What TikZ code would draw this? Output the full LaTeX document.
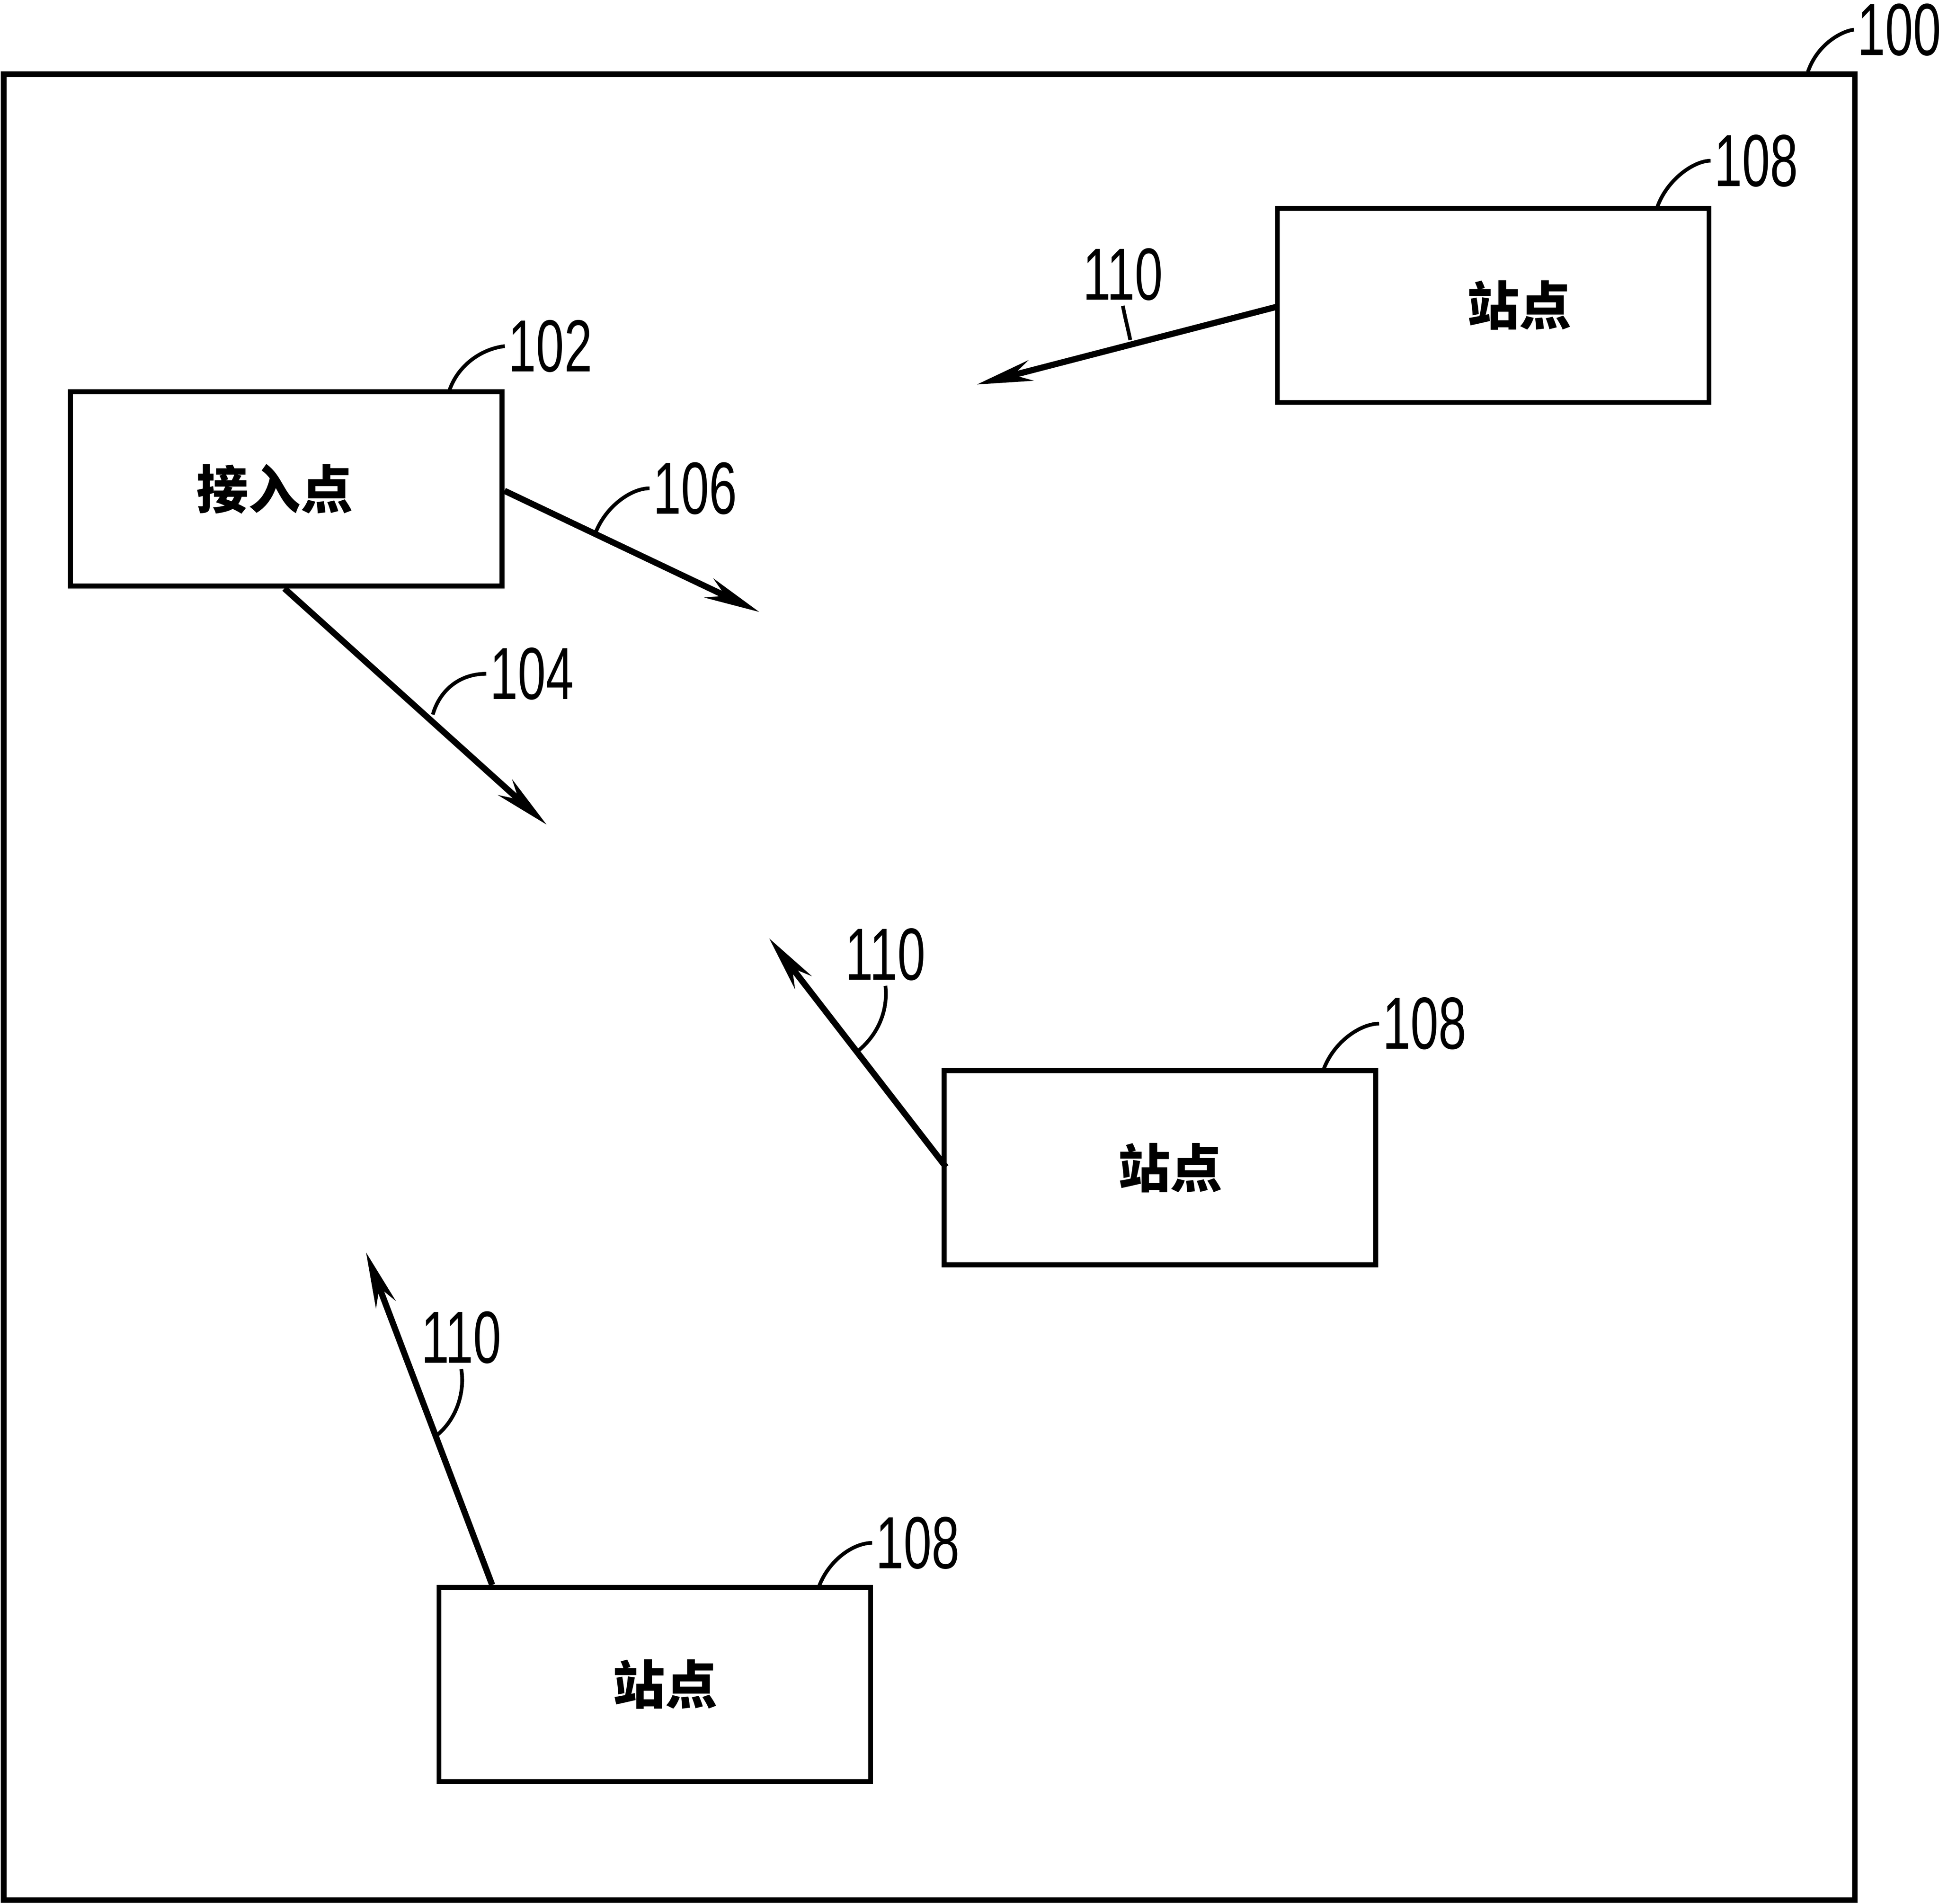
\documentclass[tikz,border=0pt]{standalone}
\usepackage{fontspec}
\setmainfont{Liberation Sans}
\newfontfamily\cjk{Noto Sans CJK SC}
\usetikzlibrary{arrows.meta}
\begin{document}
\begin{tikzpicture}[x=0.1mm,y=-0.1mm,
  box/.style={draw,line width=0.4mm,minimum width=34.9mm,minimum height=15.7mm,inner sep=0,font=\cjk\bfseries\fontsize{12}{12}\selectfont},
  sig/.style={line width=0.5mm,-{Stealth[length=4.5mm,width=1.7mm]}},
  lead/.style={line width=0.3mm},
  num/.style={font=\fontsize{17}{17}\selectfont,xscale=0.68,inner sep=1pt}]
\useasboundingbox (0,0) rectangle (1568,1540);
\draw[line width=0.45mm] (3,60) rectangle (1500,1537);
\node[num] (l100) at (1536,24) {100};
\draw[lead] (1462,58) .. controls (1470,35) and (1490,25) .. (l100.west);

\node[box] (ap) at (231.5,395.5) {\hspace*{-0.45em}接入点};
\node[num] (l102) at (445,280) {102};
\draw[lead] (363,317) .. controls (370,295) and (390,282) .. (l102.west);
\coordinate (e106) at (614,495);
\draw[sig] (ap.east |- 0,397) -- (e106);
\node[num] (l106) at (562,395) {106};
\draw[lead] (482,430) .. controls (490,410) and (510,395) .. (l106.west);
\coordinate (s104) at (230,476);
\coordinate (e104) at (442,667);
\draw[sig] (s104) -- (e104);
\node[num] (l104) at (430,545) {104};
\draw[lead] (350,578) .. controls (355,560) and (370,545) .. (l104.west);

\node[box] (s1) at (1207.5,247) {\hspace*{1em}站点};
\node[num] (l108a) at (1420,130) {108};
\draw[lead] (1340,168) .. controls (1348,145) and (1370,130) .. (l108a.west);
\coordinate (a1) at (1033,248);
\coordinate (e1) at (790,311);
\draw[sig] (a1) -- (e1);
\node[num] (l110a) at (908,222) {110};
\draw[lead] (914,275) .. controls (912,265) and (910,258) .. (l110a.south);

\node[box] (s2) at (938,944.5) {\hspace*{0.4em}站点};
\node[num] (l108b) at (1152,828) {108};
\draw[lead] (1070,866) .. controls (1078,843) and (1100,828) .. (l108b.west);
\coordinate (a2) at (765,944);
\coordinate (e2) at (622,759);
\draw[sig] (a2) -- (e2);
\node[num] (l110b) at (716,772) {110};
\draw[lead] (694,850) .. controls (712,835) and (718,815) .. (l110b.south);

\node[box] (s3) at (529.5,1362.5) {\hspace*{0.4em}站点};
\node[num] (l108c) at (742,1248) {108};
\draw[lead] (662,1284) .. controls (670,1262) and (690,1248) .. (l108c.west);
\coordinate (a3) at (398,1282);
\coordinate (e3) at (296,1013);
\draw[sig] (a3) -- (e3);
\node[num] (l110c) at (373,1082) {110};
\draw[lead] (352,1162) .. controls (370,1148) and (376,1125) .. (l110c.south);
\end{tikzpicture}
\end{document}
